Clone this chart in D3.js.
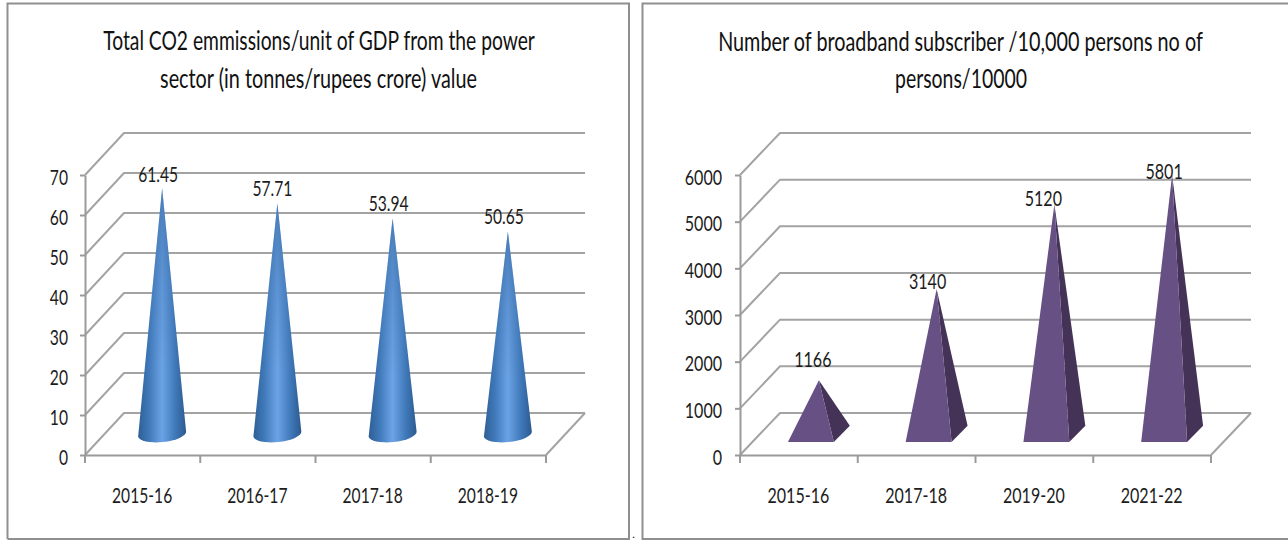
<!DOCTYPE html>
<html><head><meta charset="utf-8">
<script src="https://cdn.jsdelivr.net/npm/d3@7/dist/d3.min.js"></script>
<style>html,body{margin:0;padding:0;background:#fff;overflow:hidden}svg{display:block}text{font-family:Lato,"Liberation Sans",sans-serif}</style>
</head><body><svg id="c" width="1288" height="540"></svg>
<script>
const co2Categories = ["2015-16","2016-17","2017-18","2018-19"];
const co2Values = [61.45,57.71,53.94,50.65];
const co2Ticks = [0,10,20,30,40,50,60,70];
const co2Title = ["Total CO2 emmissions/unit of GDP from the power","sector (in tonnes/rupees crore) value"];

const bbCategories = ["2015-16","2017-18","2019-20","2021-22"];
const bbValues = [1166,3140,5120,5801];
const bbTicks = [0,1000,2000,3000,4000,5000,6000];
const bbTitle = ["Number of broadband subscriber /10,000 persons no of","persons/10000"];

const svg = d3.select("#c");
const GRID = "#a3a3a3", AXIS = "#9a9a9a", BORDER = "#8f8f8f", INK = "#1c1c1c";

const defs = svg.append("defs");
const grad = defs.append("linearGradient").attr("id","coneFill");
[[0,"#2f5f96"],[0.22,"#3f78b8"],[0.5,"#6ba3e6"],[0.78,"#3f78b8"],[1,"#2c5a8f"]].forEach(([o,c]) =>
  grad.append("stop").attr("offset",o).attr("stop-color",c));
const shade = defs.append("linearGradient").attr("id","coneShade").attr("x1",0).attr("x2",0).attr("y1",0).attr("y2",1);
[[0,0.55],[0.35,0.22],[0.7,0]].forEach(([o,a]) =>
  shade.append("stop").attr("offset",o).attr("stop-color","#2f5f96").attr("stop-opacity",a));

svg.append("path").attr("fill","none").attr("stroke",BORDER).attr("stroke-width",2)
  .attr("d","M7.5,539V3.5H629V539H7.5");
svg.append("path").attr("fill","none").attr("stroke",BORDER).attr("stroke-width",2)
  .attr("d","M1290,3.5H642.5V539H1290");
svg.append("text").attr("x",633.5).attr("y",537.5).attr("text-anchor","middle")
  .attr("font-size",9).attr("font-weight",700).attr("fill","#000").text(".");

function squeeze(sel, k){
  sel.each(function(){
    const n = this.getComputedTextLength();
    d3.select(this).attr("textLength", n*k).attr("lengthAdjust","spacingAndGlyphs");
  });
}

function drawChart(o){
  const g = svg.append("g");
  const x = d3.scaleBand().domain(o.categories).range([o.x0,o.x1]);
  const y = d3.scaleLinear().domain([0,o.ticks[o.ticks.length-1]]).range([o.y0,o.yTop]);

  const walls = g.append("g").attr("fill","none").attr("stroke",GRID).attr("stroke-width",2);
  o.ticks.forEach(t => {
    walls.append("path").attr("d",d3.line()([[o.x0,y(t)],[o.x0+o.dx,y(t)-o.dy],[o.x1+o.dx,y(t)-o.dy]]));
  });
  walls.append("path").attr("d",d3.line()([[o.x1,o.y0],[o.x1+o.dx,o.y0-o.dy]]));

  const ya = g.append("g").attr("transform",`translate(${o.x0},0)`)
    .call(d3.axisLeft(y).tickValues(o.ticks).tickFormat(d3.format("d")).tickSize(5).tickPadding(o.yPad).tickSizeOuter(0));
  const xa = g.append("g").attr("transform",`translate(0,${o.y0})`)
    .call(d3.axisBottom(x).tickSize(0).tickPadding(o.xPad));
  [ya,xa].forEach(a => {
    a.select(".domain").attr("stroke",AXIS).attr("stroke-width",2);
    a.selectAll("line").attr("stroke",AXIS).attr("stroke-width",2);
    a.selectAll("text").attr("font-size",o.tickFont).attr("fill",INK).attr("font-family",null);
  });
  ya.selectAll("text").attr("dy","0.42em");
  xa.selectAll(".tick text").attr("dx",-0.5);
  squeeze(ya.selectAll("text"),o.k);
  squeeze(xa.selectAll("text"),o.k);

  const edges = o.categories.map(c => x(c)).concat([o.x1]);
  g.append("g").selectAll("line").data(edges).join("line")
    .attr("x1",d=>d).attr("x2",d=>d).attr("y1",o.y0).attr("y2",o.y0+8)
    .attr("stroke",AXIS).attr("stroke-width",2);

  const baseY = o.y0 - o.dy/2;
  const cx = c => x(c) + x.bandwidth()/2 + o.dx/2;
  const apexY = v => baseY - o.height(v);
  const data = o.categories.map((c,i)=>({c,v:o.values[i],i}));
  o.mark(g.append("g"),data,cx,apexY,baseY,x.bandwidth());

  const lab = g.append("g").selectAll("text").data(data).join("text")
    .attr("x",d=>cx(d.c)+o.labelDx[d.i])
    .attr("y",d=>apexY(d.v)+o.labelDy[d.i])
    .attr("text-anchor","middle").attr("font-size",o.tickFont).attr("fill",INK)
    .text(d=>d.v);
  squeeze(lab,o.k);

  o.title.forEach((t,i)=>{
    const tt = g.append("text").attr("text-anchor","middle")
      .attr("font-size",26).attr("fill","#111").text(t);
    const kx = o.titleW[i]/tt.node().getComputedTextLength();
    tt.attr("transform",`translate(${o.titleX[i]},${o.titleY[i]}) scale(${kx},1)`);
  });
}

function cones(g,data,cx,apexY,baseY,band){
  const rx = band*0.208, ry = 8, tilt = 2.5;
  const shape = d => {
    const c=cx(d.c);
    return `M${c},${apexY(d.v)}L${c-rx},${baseY+tilt}A${rx} ${ry} -6 0 0 ${c+rx},${baseY-tilt}Z`;
  };
  g.selectAll("path.body").data(data).join("path").attr("class","body").attr("fill","url(#coneFill)").attr("d",shape);
  g.selectAll("path.shade").data(data).join("path").attr("class","shade").attr("fill","url(#coneShade)").attr("d",shape);
}
function pyramids(g,data,cx,apexY,baseY,band){
  const l=band*0.263, m=band*0.127, r=band*0.263, front=8, back=8.3;
  const rows=g.selectAll("g").data(data).join("g");
  rows.append("path").attr("fill","#443357").attr("d",d=>{
    const c=cx(d.c);
    return d3.line()([[c,apexY(d.v)],[c+m,baseY+front],[c+r,baseY-back]])+"Z";
  });
  rows.append("path").attr("fill","#665084").attr("d",d=>{
    const c=cx(d.c);
    return d3.line()([[c,apexY(d.v)],[c-l,baseY+front],[c+m,baseY+front]])+"Z";
  });
}

drawChart({
  categories:co2Categories, values:co2Values, ticks:co2Ticks, title:co2Title,
  x0:85,x1:546,y0:455,yTop:175,dx:39,dy:42,
  yPad:12,xPad:32,tickFont:22,k:0.71,
  height:d3.scaleLinear().domain([0,70]).range([0,280]),
  mark:cones,labelDx:[-4,-5,-4,-4],labelDy:[-6,-7,-7,-7],
  titleX:[319,318.5],titleY:[50,88],titleW:[432,317]
});
drawChart({
  categories:bbCategories, values:bbValues, ticks:bbTicks, title:bbTitle,
  x0:740,x1:1211,y0:455,yTop:175,dx:40,dy:42,
  yPad:13,xPad:32,tickFont:22,k:0.73,
  // the 3D projection foreshortens tall pyramids in the source
  height:d3.scaleLinear().domain([0,3140,5801]).range([0,145,259]),
  mark:pyramids,labelDx:[-6,-9,-11,-8],labelDy:[-13,0,2,4],
  titleX:[960.5,961],titleY:[51,88],titleW:[485,132]
});
</script></body></html>
